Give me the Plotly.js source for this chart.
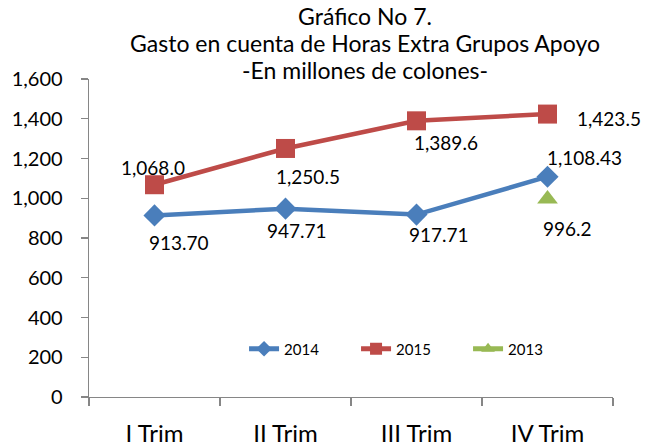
<!DOCTYPE html>
<html>
<head>
<meta charset="utf-8">
<script src="https://cdn.plot.ly/plotly-3.0.1.min.js"></script>
<style>html,body{margin:0;padding:0;background:#fff;}#chart{width:653px;height:447px;}</style>
</head>
<body>
<div id="chart"></div>
<script>
const categories = ['I Trim', 'II Trim', 'III Trim', 'IV Trim'];
const values2014 = [913.70, 947.71, 917.71, 1108.43];
const values2015 = [1068.0, 1250.5, 1389.6, 1423.5];
const categories2013 = ['IV Trim'];
const values2013 = [996.2];
const yTickVals = [0, 200, 400, 600, 800, 1000, 1200, 1400, 1600];
const titleLines = ['Gráfico No 7.', 'Gasto en cuenta de Horas Extra Grupos Apoyo', '-En millones de colones-'];

const FONT = 'Lato, "Open Sans", sans-serif';
const fmt = (v, d) => v.toLocaleString('en-US', {minimumFractionDigits: d, maximumFractionDigits: d});

const traces = [
  {name: '2014', x: categories, y: values2014, type: 'scatter', mode: 'lines+markers',
   line: {color: '#4A7EBB', width: 4.5}, marker: {symbol: 'diamond', size: 17, color: '#4A7EBB'}},
  {name: '2015', x: categories, y: values2015, type: 'scatter', mode: 'lines+markers',
   line: {color: '#BE4B48', width: 4.5}, marker: {symbol: 'square', size: 19, color: '#BE4B48'}},
  {name: '2013', x: categories2013, y: values2013, type: 'scatter', mode: 'lines+markers',
   line: {color: '#98B954', width: 4.5}, marker: {symbol: 'triangle-up', size: 18, color: '#98B954'}}
];

// label offsets (px) relative to each marker
const off2014 = [[24,-27],[11,-22],[22,-20],[37,19]];
const off2015 = [[-2,17],[22,-28],[29,-22],[61,-4]];
const off2013 = [[20,-29]];

const annotations = [];
function addLabels(xs, ys, offs, dec) {
  xs.forEach((c, i) => annotations.push({
    x: c, y: ys[i], xref: 'x', yref: 'y', text: fmt(ys[i], dec), showarrow: false,
    xshift: offs[i][0], yshift: offs[i][1], xanchor: 'center', yanchor: 'middle',
    font: {family: FONT, size: 19, color: '#000'}
  }));
}
addLabels(categories, values2014, off2014, 2);
addLabels(categories, values2015, off2015, 1);
addLabels(categories2013, values2013, off2013, 1);

const layout = {
  width: 653, height: 447,
  margin: {l: 89, r: 40, t: 79, b: 50},
  paper_bgcolor: '#fff', plot_bgcolor: '#fff',
  font: {family: FONT, color: '#000'},
  title: {
    text: titleLines.map(t => '<span style="font-size:23px">' + t + '</span>').join('<br>'),
    font: {family: FONT, size: 21, color: '#000'},
    x: 0.559, xanchor: 'center', xref: 'container', y: 0.945, yanchor: 'top', yref: 'container'
  },
  xaxis: {
    type: 'category', categoryarray: categories, range: [-0.5, 3.5],
    tickson: 'boundaries', ticks: 'outside', ticklen: 8, tickcolor: '#868686', tickwidth: 1.3,
    showline: true, linecolor: '#868686', linewidth: 1.3, showgrid: false, zeroline: false,
    tickfont: {family: FONT, size: 24, color: '#000'}, ticklabelstandoff: 15, fixedrange: true
  },
  yaxis: {
    range: [0, 1600], tickvals: yTickVals, tickformat: ',d',
    ticks: 'outside', ticklen: 7, tickcolor: '#868686', tickwidth: 1.3,
    showline: true, linecolor: '#868686', linewidth: 1.3, showgrid: false, zeroline: false,
    tickfont: {family: FONT, size: 20, color: '#000'}, ticklabelstandoff: 14, fixedrange: true
  },
  legend: {
    orientation: 'h', x: 0.6165, y: 0.151, xanchor: 'center', yanchor: 'middle',
    font: {family: FONT, size: 15, color: '#000'}, bgcolor: 'rgba(0,0,0,0)',
    entrywidth: 67, itemsizing: 'constant'
  },
  showlegend: true,
  annotations: annotations
};

Plotly.newPlot('chart', traces, layout, {displayModeBar: false, staticPlot: true});
</script>
</body>
</html>
